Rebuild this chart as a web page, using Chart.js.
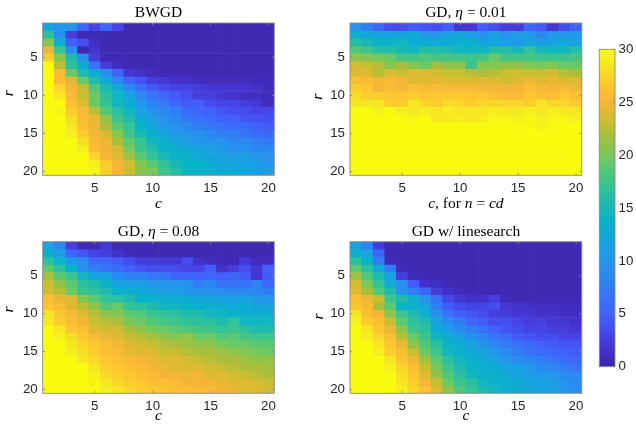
<!DOCTYPE html>
<html>
<head>
<meta charset="utf-8">
<script src="https://cdn.jsdelivr.net/npm/chart.js@4.4.1/dist/chart.umd.min.js"></script>
<style>
  html, body { margin: 0; padding: 0; background: #fff; }
  body { width: 636px; height: 430px; position: relative; overflow: hidden; }
  canvas { position: absolute; }
</style>
</head>
<body>
<canvas id="bwgdPanel"></canvas>
<canvas id="gdSmallPanel"></canvas>
<canvas id="gdLargePanel"></canvas>
<canvas id="gdLinePanel"></canvas>
<canvas id="colorbar"></canvas>
<script>
// Grid coordinates
const cValues = [1, 2, 3, 4, 5, 6, 7, 8, 9, 10, 11, 12, 13, 14, 15, 16, 17, 18, 19, 20];
const rValues = [1, 2, 3, 4, 5, 6, 7, 8, 9, 10, 11, 12, 13, 14, 15, 16, 17, 18, 19, 20];
const cTicks = [5, 10, 15, 20];
const rTicks = [5, 10, 15, 20];
const colorTicks = [0, 5, 10, 15, 20, 25, 30];

// One row per r (top to bottom), one value per c (left to right)
const bwgd = [
  [12, 10, 10, 5.5, 3, 5.5, 3, 0.5, 0.5, 0.5, 0.5, 0.5, 0.5, 0.5, 0.5, 0.5, 0.5, 0.5, 0.5, 0.5],
  [16.5, 9.5, 2.5, 0.6, 0.6, 0.5, 0.5, 0.5, 0.5, 0.5, 0.5, 0.5, 0.5, 0.5, 0.5, 0.5, 0.5, 0.5, 0.5, 0.5],
  [20.5, 13.5, 5, 3.5, 1, 0.6, 0.5, 0.5, 0.5, 0.5, 0.5, 0.5, 0.5, 0.5, 0.5, 0.5, 0.5, 0.5, 0.5, 0.5],
  [24.5, 17.5, 9, 0.5, 1.8, 0.5, 0.5, 0.5, 0.5, 0.5, 0.5, 0.5, 0.5, 0.5, 0.5, 0.5, 0.5, 0.5, 0.5, 0.5],
  [27, 21, 15.5, 9.5, 2.5, 0.6, 0.5, 0.5, 0.5, 0.5, 0.5, 0.5, 0.5, 0.5, 0.5, 0.5, 0.5, 0.5, 0.5, 0.5],
  [30, 22.5, 16.5, 13, 6.5, 2.5, 1.2, 0.6, 0.5, 0.5, 0.5, 0.5, 0.5, 0.5, 0.5, 0.5, 0.5, 0.5, 0.5, 0.5],
  [30, 25.5, 19.5, 15.5, 13, 9.5, 5.5, 2, 1.5, 1, 0.6, 0.6, 0.5, 0.5, 0.5, 0.5, 0.5, 0.5, 0.5, 0.5],
  [30, 25.5, 24, 19.5, 15.5, 13, 9, 5.5, 4, 2.5, 2, 1.5, 1.5, 1, 1, 1, 1, 1, 0.8, 0.8],
  [30, 27.5, 25, 23, 18.5, 15.5, 13, 9, 6.5, 4.5, 3.5, 3, 3, 2.5, 2, 2, 2, 2, 1.5, 0.8],
  [30, 28.5, 25.5, 23, 19.5, 16.5, 14.5, 12, 9, 6.5, 5.5, 4.5, 3.5, 2.5, 2.5, 2, 1.5, 1.2, 1.2, 0.8],
  [30, 30, 26, 24, 19.5, 17, 14.5, 13, 10, 8, 7, 5.5, 4.5, 4.5, 3.5, 3, 3, 2.5, 2.2, 1],
  [30, 29.5, 27, 25.5, 22.5, 18.5, 16.5, 14.5, 11.5, 9.5, 8.5, 7.5, 6, 5.5, 5, 4, 3.5, 3.5, 3, 3],
  [30, 30, 28, 25.5, 24.5, 21, 17.5, 15.5, 13, 11, 9.5, 8.5, 7, 6.5, 6, 5, 5, 4, 4, 3.5],
  [30, 30, 28.5, 26, 24.5, 22, 19, 17, 14, 12, 10.5, 9.5, 8.5, 7.5, 7, 6.5, 6, 6, 5, 4.5],
  [30, 30, 29, 27, 25, 23.5, 20.5, 17.5, 15, 13.5, 12, 10.5, 10, 9.5, 8.5, 7.5, 7.5, 6.5, 6, 5.5],
  [30, 30, 30, 28, 25.5, 24.5, 22, 19, 17, 14.5, 13.5, 12, 11, 10, 10, 9.5, 8.5, 8.5, 7.5, 7],
  [30, 30, 30, 29, 26, 25, 23.5, 20, 17.5, 16, 14, 13.5, 12.5, 12, 11, 10.5, 9.5, 9.5, 8.5, 8.5],
  [30, 30, 30, 30, 27.5, 25, 24, 21.5, 19, 17, 15, 14, 13.5, 12.5, 12, 11.5, 11, 11, 10, 9.5],
  [30, 30, 30, 30, 29, 27, 25, 23.5, 20.5, 19, 17, 15, 14, 14, 13, 12, 12, 11.5, 11, 10],
  [30, 30, 30, 30, 29.5, 27, 25, 23, 20.5, 20, 17.5, 16, 14, 14, 13.5, 13, 12.5, 12, 11, 11]
];

const gdEta001 = [
  [9.5, 7.5, 5.5, 3.5, 3.5, 4.5, 4, 3.5, 4.5, 2, 2, 4.5, 3.5, 2.5, 2.5, 5.5, 4.5, 2, 3.5, 5],
  [13.5, 12.5, 12, 12, 12, 12.5, 10.5, 10, 11.5, 12, 11, 9.5, 11.5, 9.5, 11, 10.5, 8.5, 10.5, 10, 10.5],
  [16, 15, 14, 14, 14.5, 13, 13, 12.5, 13, 13.5, 13.5, 12, 12.5, 11, 10.5, 12, 11, 11.5, 12.5, 11.5],
  [18.5, 17.5, 16, 16, 15, 14.5, 16, 16, 15.5, 14.5, 14.5, 14.5, 16, 16, 15, 17, 15, 14.5, 14.5, 16],
  [21, 20.5, 20, 19.5, 18, 18, 18.5, 18, 18, 18, 17.5, 18, 19.5, 18, 18, 18, 17.5, 17.5, 17.5, 18],
  [23.5, 23, 22.5, 20.5, 22, 20.5, 19.5, 22, 21, 21, 17.5, 20.5, 20.5, 21, 21, 20.5, 20, 20.5, 19.5, 19.5],
  [24, 24, 22.5, 24, 23, 24, 24, 23.5, 23, 23, 22.5, 22, 22.5, 23, 23.5, 23, 23, 23.5, 22.5, 22],
  [26, 25.5, 25, 25.5, 25, 24, 24, 24.5, 24, 24, 24, 24, 24, 23.5, 24, 24.5, 24, 24.5, 24, 24],
  [27, 26.5, 25, 25.5, 25, 26, 25.5, 25.5, 25.5, 25.5, 25.5, 25, 25, 25, 25, 26, 25.5, 25, 25.5, 24.5],
  [28, 27, 27, 26.5, 26.5, 27, 26.5, 26.5, 26.5, 26.5, 26.5, 26.5, 26, 25.5, 25.5, 26.5, 26, 26, 26.5, 26],
  [28.5, 28.5, 28.5, 27, 27, 28.5, 27.5, 27, 28, 27.5, 27, 27.5, 27.5, 27.5, 27.5, 27, 28.5, 27.5, 27.5, 27],
  [30, 30, 29, 30, 29, 28.5, 29, 28.5, 29, 28.5, 28.5, 28.5, 29, 28.5, 28.5, 29, 28.5, 29, 28.5, 28.5],
  [30, 30, 30, 30, 30, 29.5, 30, 28.5, 28.5, 29, 28.5, 29, 29.5, 29.5, 29, 29.5, 29, 29.5, 29.5, 29],
  [30, 30, 30, 30, 30, 30, 30, 30, 30, 30, 30, 30, 30, 30, 29.8, 29.8, 29.3, 30, 30, 30],
  [30, 30, 30, 30, 30, 30, 30, 30, 30, 30, 30, 30, 30, 30, 30, 30, 30, 30, 30, 30],
  [30, 30, 30, 30, 30, 30, 30, 30, 30, 30, 30, 30, 30, 30, 30, 30, 30, 30, 30, 30],
  [30, 30, 30, 30, 30, 30, 30, 30, 30, 30, 30, 30, 30, 30, 30, 30, 30, 30, 30, 30],
  [30, 30, 30, 30, 30, 30, 30, 30, 30, 30, 30, 30, 30, 30, 30, 30, 30, 30, 30, 30],
  [30, 30, 30, 30, 30, 30, 30, 30, 30, 30, 30, 30, 30, 30, 30, 30, 30, 30, 30, 30],
  [30, 30, 30, 30, 30, 30, 30, 30, 30, 30, 30, 30, 30, 30, 30, 30, 30, 30, 30, 30]
];

const gdEta008 = [
  [11.5, 8.5, 2.5, 0.7, 0.7, 2, 0.6, 0.5, 0.5, 0.5, 0.5, 0.5, 0.5, 0.5, 0.5, 0.5, 0.5, 0.5, 0.5, 0.5],
  [13.5, 11, 5.5, 4, 3, 2.5, 1.5, 0.8, 0.6, 0.5, 0.5, 0.5, 0.5, 0.5, 0.5, 0.5, 0.5, 0.5, 0.5, 0.5],
  [16.5, 14, 10, 9, 5.5, 5.5, 4.5, 3.5, 2.5, 2.5, 2, 2, 3.5, 1.5, 1, 0.6, 0.6, 2, 1, 1],
  [19, 16.5, 14, 9.5, 7.5, 6.5, 6, 5, 4, 3.5, 3.5, 3.5, 3, 3, 4.5, 1.5, 2.5, 3.5, 2, 5],
  [22, 19, 17.5, 14.5, 12, 11.5, 9, 8, 8, 7, 7, 5.5, 5.5, 5, 5.5, 5, 5.5, 4.5, 2, 4.5],
  [23, 21, 19, 16.5, 15.5, 14, 11.5, 11, 11, 10, 10, 10, 9.5, 7.5, 8.5, 6.5, 6.5, 6.5, 8, 5.5],
  [23.5, 22.5, 19.5, 17.5, 16.5, 15.5, 13.5, 13.5, 12.5, 11.5, 11, 11, 10, 9.5, 9.5, 9, 8.5, 8.5, 8.5, 7.5],
  [26, 24.5, 24, 20.5, 19, 17, 16.5, 15.5, 14, 14, 13.5, 13, 13, 12, 12, 11.5, 11, 11, 10.5, 10],
  [26.5, 25.5, 24, 22.5, 21, 18.5, 19.5, 17, 16.5, 15.5, 14.5, 14.5, 14, 13.5, 13.5, 13, 12.5, 13, 12, 11.5],
  [28.5, 26.5, 25.5, 24, 22.5, 21, 20.5, 19, 18.5, 17.5, 17, 16.5, 15.5, 15.5, 14.5, 14.5, 14, 13.5, 13, 13.5],
  [28.5, 27, 26, 25, 23, 22.5, 22, 20, 19.5, 18.5, 18, 17.5, 17, 16.5, 16.5, 15.5, 17, 14.5, 14.5, 14.5],
  [30, 28.5, 26.5, 26, 24, 23.5, 23.5, 22, 21, 20, 19.5, 19, 18.5, 18, 17.5, 17, 17.5, 16.5, 15.5, 15.5],
  [30, 29, 28, 26.5, 25.5, 24.5, 24, 23, 22.5, 22, 21, 20.5, 21, 19.5, 19.5, 18.5, 19, 18, 17.5, 17.5],
  [30, 30, 28.5, 27.5, 26.5, 26, 25, 24, 23.5, 23, 22.5, 22, 21.5, 21, 21, 20, 19.5, 19.5, 19, 19],
  [30, 30, 29, 28, 27, 26, 25.5, 24.5, 24, 24, 23, 23, 22.5, 22, 22, 21.5, 21, 20.5, 20, 19.5],
  [30, 30, 30, 28.5, 27.5, 26.5, 26, 25.5, 25, 24.5, 24, 24, 23.5, 23, 22.5, 22, 22, 21.5, 21, 21],
  [30, 30, 30, 30, 28.5, 27, 26.5, 26, 25.5, 25, 24.5, 24, 24, 24, 23.5, 23, 22.5, 22, 22, 21.5],
  [30, 30, 30, 30, 29, 27.5, 27, 26.5, 26, 25.5, 25, 25, 24.5, 25, 24, 24, 23.5, 23, 22.5, 22],
  [30, 30, 30, 30, 29.5, 28.5, 27.5, 27, 26.5, 26, 26, 25.5, 25, 25, 25, 24.5, 24, 24, 23.5, 23],
  [30, 30, 30, 30, 30, 29, 28.5, 27.5, 27, 26.5, 26.5, 26, 26, 25.5, 25.5, 25, 24.5, 24, 24, 23.5]
];

const gdLinesearch = [
  [11.5, 8, 2.5, 0.5, 0.5, 0.5, 0.5, 0.5, 0.5, 0.5, 0.5, 0.5, 0.5, 0.5, 0.5, 0.5, 0.5, 0.5, 0.5, 0.5],
  [13.5, 11.5, 5.5, 0.5, 0.5, 0.5, 0.5, 0.5, 0.5, 0.5, 0.5, 0.5, 0.5, 0.5, 0.5, 0.5, 0.5, 0.5, 0.5, 0.5],
  [16.5, 14, 7.5, 0.8, 0.6, 0.5, 0.5, 0.5, 0.5, 0.5, 0.5, 0.5, 0.5, 0.5, 0.5, 0.5, 0.5, 0.5, 0.5, 0.5],
  [19, 16.5, 12.5, 7.5, 0.8, 0.6, 0.5, 0.5, 0.5, 0.5, 0.5, 0.5, 0.5, 0.5, 0.5, 0.5, 0.5, 0.5, 0.5, 0.5],
  [21.5, 18.5, 15.5, 11.5, 2.5, 0.8, 0.6, 0.5, 0.5, 0.5, 0.5, 0.5, 0.5, 0.5, 0.5, 0.5, 0.5, 0.5, 0.5, 0.5],
  [23.5, 20, 17, 13, 9.5, 4.5, 1.5, 1, 0.6, 0.5, 0.5, 0.5, 0.5, 0.5, 0.5, 0.5, 0.5, 0.5, 0.5, 0.5],
  [24, 22, 18.5, 15.5, 10, 7.5, 5.5, 2.5, 1.5, 1, 0.6, 0.6, 0.6, 0.5, 0.5, 0.5, 0.5, 0.5, 0.5, 0.5],
  [26, 24.5, 23, 17.5, 15.5, 13.5, 9.5, 6.5, 3, 2, 1.5, 1.5, 2.5, 0.8, 0.7, 0.7, 0.7, 0.7, 0.7, 0.7],
  [26.5, 25.5, 22, 19, 14, 13.5, 12, 7.5, 4.5, 3.5, 3, 3, 3.5, 2, 1.7, 1.5, 1.2, 1.2, 1, 1],
  [28.5, 26, 25, 21, 17.5, 15.5, 13.5, 9.5, 6.5, 5, 4, 3.5, 2.5, 2.5, 2, 2, 1.5, 1.7, 1.2, 1.2],
  [29, 27, 26, 23, 19, 16.5, 15.5, 12, 9, 7.5, 5.5, 4.5, 3.5, 3.5, 3, 2.5, 2.5, 2, 2, 1.5],
  [30, 28.5, 26.5, 24.5, 21, 17.5, 16.5, 13, 11, 9, 7.5, 6.5, 5, 4, 3.5, 3, 3, 2.5, 2.5, 2],
  [30, 29, 27.5, 26, 22.5, 19.5, 17.5, 14.5, 13, 11.5, 9.5, 8.5, 6.5, 6, 4.5, 4, 3.5, 3.5, 3, 3],
  [30, 30, 28.5, 26.5, 24.5, 21, 18.5, 16.5, 14, 13, 11.5, 10, 8.5, 7.5, 6.5, 6, 5, 4.5, 4, 4],
  [30, 30, 29, 27, 26, 23, 19.5, 17.5, 14.5, 13.5, 13, 11.5, 10, 9, 7.5, 6.5, 6, 5.5, 5, 4.5],
  [30, 30, 30, 28.5, 26.5, 24.5, 21.5, 19, 16.5, 14.5, 13.5, 13, 11.5, 10, 9, 8.5, 7.5, 6.5, 6, 5.5],
  [30, 30, 30, 29, 27.5, 26, 23, 20, 17.5, 15.5, 14, 13.5, 13, 11.5, 11, 10, 9, 8.5, 7.5, 6.5],
  [30, 30, 30, 30, 28, 26.5, 24, 21, 18.5, 16.5, 14.5, 13.5, 13.5, 13, 11.5, 11, 10.5, 10, 9, 8.5],
  [30, 30, 30, 30, 28.5, 27, 25, 23, 19.5, 17.5, 16.5, 14.5, 14, 13.5, 13, 12, 11.5, 11, 10, 9],
  [30, 30, 30, 30, 29, 27.5, 26, 24, 21, 18.5, 17, 15.5, 14.5, 13.5, 13, 12, 11.5, 11, 10, 9]
];

// Parula-like colormap, 31 evenly spaced stops across the colour range
const parulaStops = [
  [62, 38, 168], [65, 45, 190], [68, 55, 212], [70, 68, 230], [68, 85, 245],
  [65, 97, 250], [58, 108, 250], [52, 120, 246], [46, 131, 242], [42, 140, 240],
  [35, 150, 235], [28, 158, 228], [20, 165, 220], [14, 172, 210], [10, 180, 200],
  [25, 184, 180], [38, 189, 165], [50, 195, 150], [70, 197, 130], [92, 200, 112],
  [120, 200, 90], [145, 195, 72], [170, 190, 60], [200, 190, 50], [222, 185, 50],
  [245, 182, 55], [252, 190, 50], [250, 205, 44], [247, 222, 38], [246, 238, 30],
  [249, 251, 14]
];
const colorMin = colorTicks[0];
const colorMax = colorTicks[colorTicks.length - 1];

function parula(v) {
  const t = Math.max(0, Math.min(1, (v - colorMin) / (colorMax - colorMin))) * (parulaStops.length - 1);
  const i = Math.min(parulaStops.length - 2, Math.floor(t));
  const f = t - i;
  const a = parulaStops[i], b = parulaStops[i + 1];
  const c = a.map((x, k) => Math.round(x + (b[k] - x) * f));
  return `rgb(${c[0]},${c[1]},${c[2]})`;
}

const INK = '#262626';
const FRAME = '#8a8a8a';
const tickFont = { family: '"Liberation Sans", Arial, sans-serif', size: 13.3 };

function drawRich(ctx, segs, x, y, size) {
  const fontOf = s => `${s[1] === 'i' ? 'italic ' : ''}${size}px "Liberation Serif", "Times New Roman", serif`;
  let total = 0;
  segs.forEach(s => { ctx.font = fontOf(s); total += ctx.measureText(s[0]).width; });
  let cx = x - total / 2;
  ctx.textAlign = 'left';
  ctx.textBaseline = 'alphabetic';
  ctx.fillStyle = '#000';
  segs.forEach(s => { ctx.font = fontOf(s); ctx.fillText(s[0], cx, y); cx += ctx.measureText(s[0]).width; });
}

// Box, inward tick marks, title and axis labels of one panel
function panelDecor(text) {
  return {
    id: 'panelDecor',
    afterDraw(chart) {
      const { ctx, chartArea: a, scales } = chart;
      ctx.save();
      ctx.strokeStyle = FRAME;
      ctx.lineWidth = 0.9;
      ctx.strokeRect(a.left, a.top, a.right - a.left, a.bottom - a.top);
      const len = 2.3;
      ctx.beginPath();
      scales.x.ticks.forEach((t, i) => {
        const x = scales.x.getPixelForTick(i);
        ctx.moveTo(x, a.bottom); ctx.lineTo(x, a.bottom - len);
        ctx.moveTo(x, a.top); ctx.lineTo(x, a.top + len);
      });
      scales.y.ticks.forEach(t => {
        const y = scales.y.getPixelForValue(t.value);
        ctx.moveTo(a.left, y); ctx.lineTo(a.left + len, y);
        ctx.moveTo(a.right, y); ctx.lineTo(a.right - len, y);
      });
      ctx.stroke();

      const cx = (a.left + a.right) / 2;
      drawRich(ctx, text.title, cx, a.top - 5.8, 15.5);
      drawRich(ctx, text.xLabel, cx, a.bottom + text.xGap, 15.5);
      ctx.translate(a.left - text.yGap, (a.top + a.bottom) / 2 + text.yShift);
      ctx.rotate(-Math.PI / 2);
      drawRich(ctx, [['r', 'i']], 0, 0, 15.5);
      ctx.restore();
    }
  };
}

function heatmap(id, rows, box, area, text) {
  const cvs = document.getElementById(id);
  cvs.width = box.w; cvs.height = box.h;
  cvs.style.left = box.x + 'px'; cvs.style.top = box.y + 'px';

  const datasets = rows.map((row, k) => ({
    data: row.map(() => [rValues[k] - 0.5, rValues[k] + 0.5]),
    backgroundColor: row.map(parula),
    borderWidth: 0,
    barPercentage: 1,
    categoryPercentage: 1,
    grouped: false
  }));

  return new Chart(cvs, {
    type: 'bar',
    data: { labels: cValues.map(String), datasets },
    options: {
      responsive: false,
      animation: false,
      events: [],
      devicePixelRatio: 1,
      layout: { padding: { left: 0, top: area.T - box.y, right: box.x + box.w - area.R, bottom: 0 } },
      plugins: { legend: { display: false }, tooltip: { enabled: false }, title: { display: false } },
      scales: {
        x: {
          type: 'category',
          offset: true,
          grid: { display: false, drawTicks: false },
          border: { display: false },
          afterBuildTicks: s => { s.ticks = cTicks.map(c => ({ value: cValues.indexOf(c) })); },
          afterFit: s => { s.height = box.y + box.h - area.B; },
          ticks: {
            autoSkip: false, maxRotation: 0, padding: 5, color: INK, font: tickFont,
            callback(v) { return this.getLabelForValue(v); }
          }
        },
        y: {
          type: 'linear',
          min: rValues[0] - 0.5,
          max: rValues[rValues.length - 1] + 0.5,
          reverse: true,
          grid: { display: false, drawTicks: false },
          border: { display: false },
          afterBuildTicks: s => { s.ticks = rTicks.map(v => ({ value: v })); },
          afterFit: s => { s.width = area.L - box.x; },
          ticks: { padding: 5, color: INK, font: tickFont }
        }
      }
    },
    plugins: [panelDecor(text)]
  });
}

const topArea = { T: 23, B: 175.3 };
const botArea = { T: 241.7, B: 393.3 };
const leftX = { L: 42.7, R: 274.3 };
const rightX = { L: 350, R: 581.8 };

heatmap('bwgdPanel', bwgd,
  { x: 0, y: 0, w: 300, h: 218 }, { ...leftX, ...topArea },
  { title: [['BWGD', 'n']], xLabel: [['c', 'i']], xGap: 33, yGap: 29.4, yShift: -6 });

heatmap('gdSmallPanel', gdEta001,
  { x: 300, y: 0, w: 290, h: 218 }, { ...rightX, ...topArea },
  { title: [['GD, ', 'n'], ['η', 'i'], [' = 0.01', 'n']],
    xLabel: [['c', 'i'], [', for ', 'n'], ['n', 'i'], [' = ', 'n'], ['cd', 'i']],
    xGap: 33, yGap: 28.3, yShift: -2.5 });

heatmap('gdLargePanel', gdEta008,
  { x: 0, y: 218, w: 300, h: 212 }, { ...leftX, ...botArea },
  { title: [['GD, ', 'n'], ['η', 'i'], [' = 0.08', 'n']], xLabel: [['c', 'i']], xGap: 26.7, yGap: 30, yShift: -8 });

heatmap('gdLinePanel', gdLinesearch,
  { x: 300, y: 218, w: 290, h: 212 }, { ...rightX, ...botArea },
  { title: [['GD w/ linesearch', 'n']], xLabel: [['c', 'i']], xGap: 26.7, yGap: 27.5, yShift: -1 });

// Colour scale
(function () {
  const box = { x: 590, y: 30, w: 46, h: 350 };
  const area = { L: 599.3, T: 49.3, R: 615, B: 366.7 };
  const cvs = document.getElementById('colorbar');
  cvs.width = box.w; cvs.height = box.h;
  cvs.style.left = box.x + 'px'; cvs.style.top = box.y + 'px';

  const barFrame = {
    id: 'barFrame',
    afterDraw(chart) {
      const { ctx, chartArea: a, scales } = chart;
      ctx.save();
      ctx.strokeStyle = FRAME;
      ctx.lineWidth = 0.9;
      ctx.strokeRect(a.left, a.top, a.right - a.left, a.bottom - a.top);
      ctx.beginPath();
      scales.y.ticks.forEach(t => {
        const y = scales.y.getPixelForValue(t.value);
        ctx.moveTo(a.right, y); ctx.lineTo(a.right - 2.5, y);
      });
      ctx.stroke();
      ctx.restore();
    }
  };

  new Chart(cvs, {
    type: 'bar',
    data: {
      labels: [''],
      datasets: [{
        data: [[colorMin, colorMax]],
        backgroundColor(ctx) {
          const a = ctx.chart.chartArea;
          if (!a) return parula(colorMin);
          const g = ctx.chart.ctx.createLinearGradient(0, a.bottom, 0, a.top);
          parulaStops.forEach((s, i) => g.addColorStop(i / (parulaStops.length - 1), `rgb(${s[0]},${s[1]},${s[2]})`));
          return g;
        },
        borderWidth: 0,
        barPercentage: 1,
        categoryPercentage: 1
      }]
    },
    options: {
      responsive: false,
      animation: false,
      events: [],
      devicePixelRatio: 1,
      layout: { padding: { left: area.L - box.x, top: area.T - box.y, right: 0, bottom: box.y + box.h - area.B } },
      plugins: { legend: { display: false }, tooltip: { enabled: false } },
      scales: {
        x: { display: false },
        y: {
          position: 'right',
          min: colorMin,
          max: colorMax,
          grid: { display: false, drawTicks: false },
          border: { display: false },
          afterBuildTicks: s => { s.ticks = colorTicks.map(v => ({ value: v })); },
          afterFit: s => { s.width = box.x + box.w - area.R; },
          ticks: { padding: 3.5, color: INK, font: tickFont }
        }
      }
    },
    plugins: [barFrame]
  });
})();
</script>
</body>
</html>
